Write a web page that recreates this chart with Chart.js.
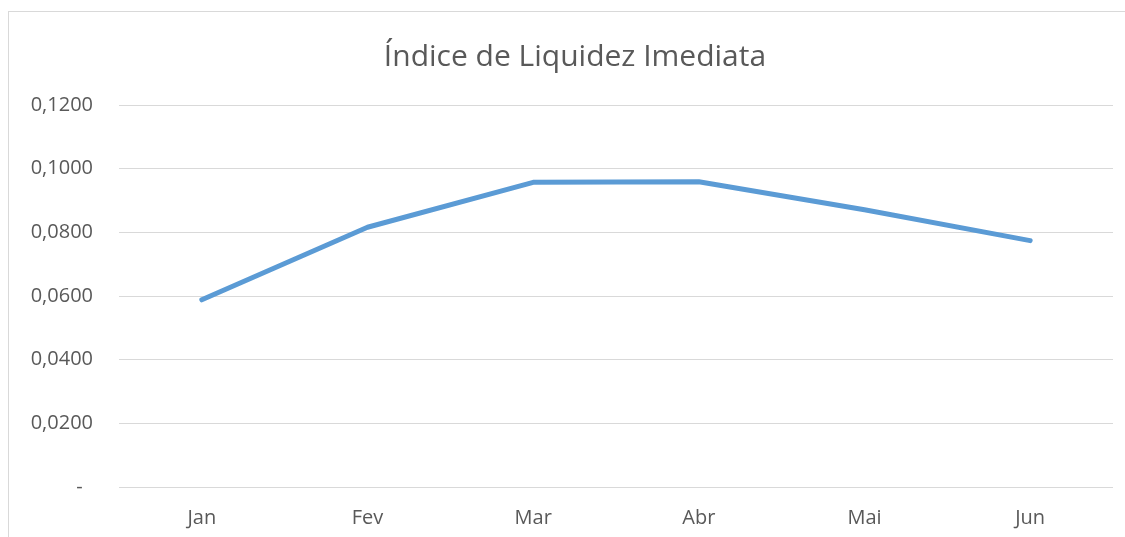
<!DOCTYPE html>
<html>
<head>
<meta charset="utf-8">
<script src="https://cdn.jsdelivr.net/npm/chart.js@4.4.1/dist/chart.umd.min.js"></script>
<style>
  html, body { margin: 0; padding: 0; background: #fff; overflow: hidden; }
  body { width: 1125px; height: 537px; position: relative; }
  #frame {
    position: absolute; left: 8px; top: 11px;
    width: 1200px; height: 600px;
    border: 1px solid #d9d9d9;
  }
  /* canvas runs past the right edge, like the frame of the original chart */
  #wrap { position: absolute; left: 0; top: 0; width: 1150px; height: 537px; }
</style>
</head>
<body>
<div id="frame"></div>
<div id="wrap"><canvas id="chart"></canvas></div>
<script>
// chart data
const months = ['Jan', 'Fev', 'Mar', 'Abr', 'Mai', 'Jun'];
const liquidez = [0.0588, 0.0816, 0.0957, 0.0959, 0.0871, 0.0774];
const yTicks = [0, 0.02, 0.04, 0.06, 0.08, 0.10, 0.12];

const TEXT = '#595959';
const GRID = '#d9d9d9';
const LINE = '#5b9bd5';
const FONT = "'Open Sans', sans-serif";

function fmt(v) {
  if (Math.abs(v) < 1e-9) return '-  ';
  return v.toFixed(4).replace('.', ',');
}

new Chart(document.getElementById('chart'), {
  type: 'line',
  data: {
    labels: months,
    datasets: [{
      label: 'Índice de Liquidez Imediata',
      data: liquidez,
      borderColor: LINE,
      backgroundColor: LINE,
      borderWidth: 5,
      borderCapStyle: 'round',
      borderJoinStyle: 'round',
      pointRadius: 0,
      tension: 0,
      fill: false,
    }],
  },
  options: {
    responsive: true,
    maintainAspectRatio: false,
    animation: false,
    layout: { padding: 0 },
    plugins: {
      legend: { display: false },
      tooltip: { enabled: false },
      title: {
        display: true,
        text: 'Índice de Liquidez Imediata',
        color: TEXT,
        font: { family: FONT, size: 30, weight: 'normal' },
        padding: { top: 39, bottom: 30 },
      },
    },
    scales: {
      x: {
        offset: true,
        grid: { display: false },
        border: { display: false },
        ticks: { color: TEXT, font: { family: FONT, size: 20 }, padding: 11 },
        afterFit: (scale) => { scale.height = 50; },
      },
      y: {
        min: 0,
        max: 0.12,
        afterBuildTicks: (scale) => { scale.ticks = yTicks.map((v) => ({ value: v })); },
        grid: { color: GRID, lineWidth: 1, drawTicks: false },
        border: { display: false },
        ticks: {
          color: TEXT,
          font: { family: FONT, size: 20 },
          padding: 26,
          callback: (v) => fmt(v),
        },
        afterFit: (scale) => { scale.width = 119; },
      },
      // empty right-hand spacer, only reserves room on the right
      spacer: {
        type: 'linear',
        position: 'right',
        grid: { display: false },
        border: { display: false },
        ticks: { display: false },
        afterFit: (scale) => { scale.width = 37; },
      },
    },
  },
});
</script>
</body>
</html>
